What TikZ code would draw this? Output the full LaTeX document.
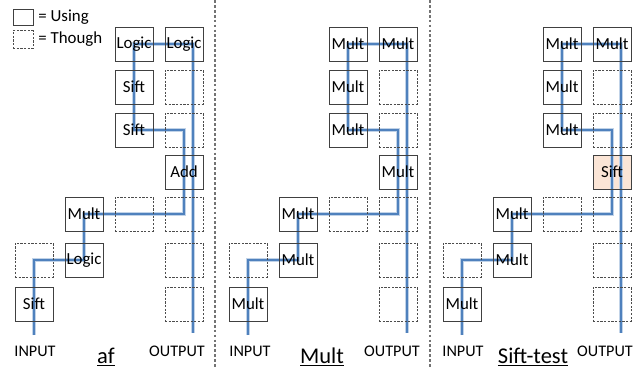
\documentclass[tikz,border=0pt]{standalone}
\usepackage{fontspec}
\setmainfont{Carlito}
\usepackage{xcolor}
\usepackage{tikz}
\usetikzlibrary{positioning,backgrounds}

\definecolor{routeblue}{RGB}{79,129,189}
\definecolor{siftfill}{RGB}{251,229,214}

\begin{document}
\begin{tikzpicture}[
x=0.25mm,
y=-0.25mm,
every node/.style={font=\fontsize{12}{14}\selectfont},
usebox/.style={rectangle,draw=black!75,line width=0.6pt,minimum width=0.95cm,minimum height=0.85cm,inner sep=0pt},
thoughbox/.style={usebox,draw=black!70,dash pattern=on 1.6pt off 1pt},
port/.style={font=\fontsize{11.5}{13}\selectfont},
paneltitle/.style={font=\fontsize{16}{18}\selectfont},
route/.style={draw=routeblue,line width=1.8pt,preaction={draw=routeblue!35,line width=3.1pt}},
divider/.style={draw=black!55,line width=0.9pt,dash pattern=on 2pt off 1.5pt}
]
\useasboundingbox (0,0) rectangle (640,375);

% legend
\node[usebox,minimum width=0.5cm,minimum height=0.4cm] (keyuse) at (23,17) {};
\node[thoughbox,minimum width=0.5cm,minimum height=0.43cm] (keythough) at (23,39.5) {};
\node[right=0pt of keyuse] (keyusetext) {= Using};
\node[right=0pt of keythough] (keythoughtext) {= Though};

\draw[divider] (215,0) -- (215,368);
\draw[divider] (430,0) -- (430,368);

% af
\node[usebox] (afC1) at (134,44) {Logic};
\node[usebox] (afD1) at (184,44) {Logic};
\node[usebox] (afC2) at (134,87) {Sift};
\node[thoughbox] (afD2) at (184,87) {};
\node[usebox] (afC3) at (134,130) {Sift};
\node[thoughbox] (afD3) at (184,130) {};
\node[usebox] (afD4) at (184,172) {Add};
\node[usebox] (afB5) at (84,214) {Mult};
\node[thoughbox] (afC5) at (134,214) {};
\node[thoughbox] (afD5) at (184,214) {};
\node[thoughbox] (afA6) at (34,260) {};
\node[usebox] (afB6) at (84,260) {Logic};
\node[thoughbox] (afD6) at (184,260) {};
\node[usebox] (afA7) at (34,304) {Sift};
\node[thoughbox] (afD7) at (184,304) {};
\node[port] (afinput) at (35,351) {INPUT};
\node[port] (afoutput) at (177,351) {OUTPUT};
\node[paneltitle] (aftitle) at (106,357) {\underline{af}};
\coordinate (afin) at (34,335);
\coordinate (afout) at (193,333);
\begin{pgfonlayer}{background}
\draw[route] (afin) |- (afB6.center) -- (afB5.center) -| (afD3.center) -| (afC1.center) -| (afout);
\end{pgfonlayer}

% Mult
\begin{scope}[shift={(214,0)}]
\node[usebox] (muC1) at (134,44) {Mult};
\node[usebox] (muD1) at (184,44) {Mult};
\node[usebox] (muC2) at (134,87) {Mult};
\node[thoughbox] (muD2) at (184,87) {};
\node[usebox] (muC3) at (134,130) {Mult};
\node[thoughbox] (muD3) at (184,130) {};
\node[usebox] (muD4) at (184,172) {Mult};
\node[usebox] (muB5) at (84,214) {Mult};
\node[thoughbox] (muC5) at (134,214) {};
\node[thoughbox] (muD5) at (184,214) {};
\node[thoughbox] (muA6) at (34,260) {};
\node[usebox] (muB6) at (84,260) {Mult};
\node[thoughbox] (muD6) at (184,260) {};
\node[usebox] (muA7) at (34,304) {Mult};
\node[thoughbox] (muD7) at (184,304) {};
\node[port] (muinput) at (36,351) {INPUT};
\node[port] (muoutput) at (178,351) {OUTPUT};
\node[paneltitle] (mutitle) at (108,357) {\underline{Mult}};
\coordinate (muin) at (34,335);
\coordinate (muout) at (193,333);
\begin{pgfonlayer}{background}
\draw[route] (muin) |- (muB6.center) -- (muB5.center) -| (muD3.center) -| (muC1.center) -| (muout);
\end{pgfonlayer}
\end{scope}

% Sift-test
\begin{scope}[shift={(428,0)}]
\node[usebox] (stC1) at (134,44) {Mult};
\node[usebox] (stD1) at (184,44) {Mult};
\node[usebox] (stC2) at (134,87) {Mult};
\node[thoughbox] (stD2) at (184,87) {};
\node[usebox] (stC3) at (134,130) {Mult};
\node[thoughbox] (stD3) at (184,130) {};
\node[usebox] (stD4) at (184,172) {Sift};
\node[usebox] (stB5) at (84,214) {Mult};
\node[thoughbox] (stC5) at (134,214) {};
\node[thoughbox] (stD5) at (184,214) {};
\node[thoughbox] (stA6) at (34,260) {};
\node[usebox] (stB6) at (84,260) {Mult};
\node[thoughbox] (stD6) at (184,260) {};
\node[usebox] (stA7) at (34,304) {Mult};
\node[thoughbox] (stD7) at (184,304) {};
\node[port] (stinput) at (35,351) {INPUT};
\node[port] (stoutput) at (177,351) {OUTPUT};
\node[paneltitle] (sttitle) at (105,357) {\underline{Sift-test}};
\coordinate (stin) at (34,335);
\coordinate (stout) at (193,333);
\begin{pgfonlayer}{background}
\fill[siftfill] (stD4.south west) rectangle (stD4.north east);
\draw[route] (stin) |- (stB6.center) -- (stB5.center) -| (stD3.center) -| (stC1.center) -| (stout);
\end{pgfonlayer}
\end{scope}
\end{tikzpicture}
\end{document}
